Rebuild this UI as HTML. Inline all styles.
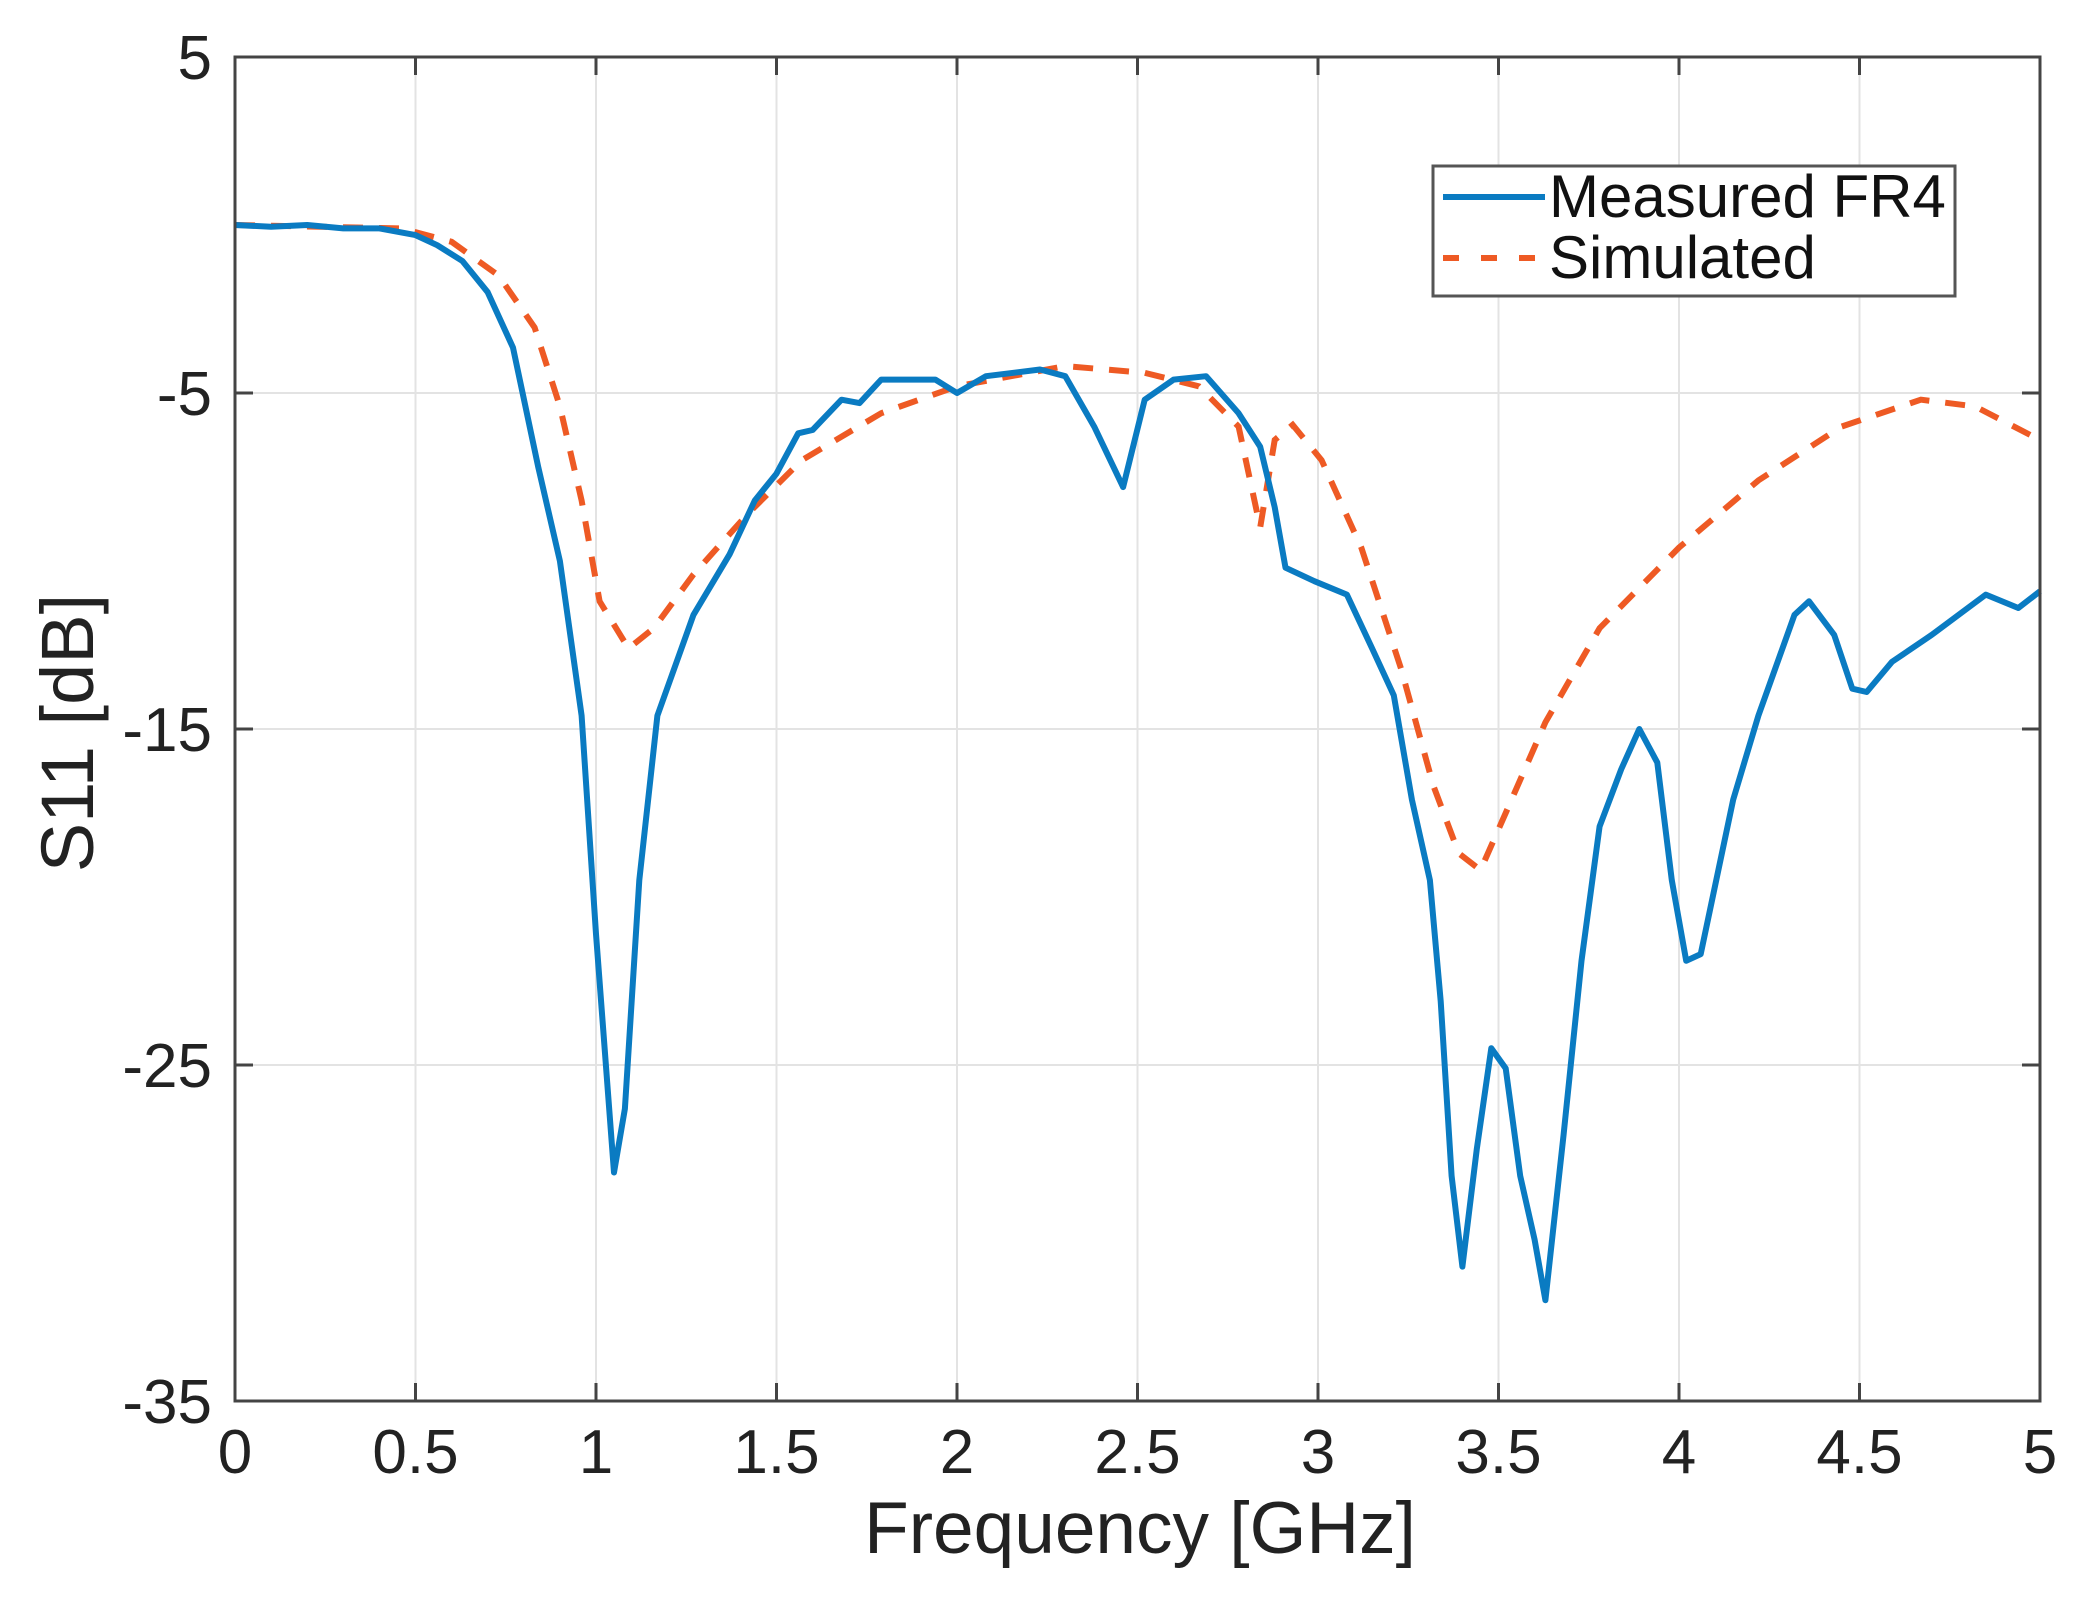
<!DOCTYPE html>
<html><head><meta charset="utf-8"><style>
html,body{margin:0;padding:0;background:#fff;}
svg{display:block;font-family:"Liberation Sans",Arial,sans-serif;}
</style></head><body>
<svg id="s" width="2088" height="1603" viewBox="0 0 2088 1603" xmlns="http://www.w3.org/2000/svg">
<rect width="2088" height="1603" fill="#fff"/>
<g id="grid" stroke="#e3e3e3" stroke-width="2"></g>
<g id="ticks" stroke="#444" stroke-width="3"></g>
<path id="sim" fill="none" stroke="#EE5A24" stroke-width="6" stroke-dasharray="20,16"/>
<path id="meas" fill="none" stroke="#0A7BC2" stroke-width="6" stroke-linejoin="round"/>
<rect x="235" y="57" width="1805" height="1344" fill="none" stroke="#444" stroke-width="3"/>
<g id="lbl" fill="#222" font-size="62"></g>
<text x="1140" y="1553" text-anchor="middle" font-size="73" fill="#222">Frequency [GHz]</text>
<text transform="translate(93,733) rotate(-90)" text-anchor="middle" font-size="74" fill="#222">S11 [dB]</text>
<rect x="1433" y="166" width="522" height="130" fill="#fff" stroke="#555" stroke-width="3"/>
<line x1="1443" y1="197" x2="1545" y2="197" stroke="#0A7BC2" stroke-width="6"/>
<line x1="1443" y1="258" x2="1545" y2="258" stroke="#EE5A24" stroke-width="6" stroke-dasharray="16,22"/>
<text x="1549" y="217" font-size="60" fill="#111">Measured FR4</text>
<text x="1549" y="278" font-size="60" fill="#111">Simulated</text>
</svg>
<script>
var X=function(f){return 235+f*361;},Y=function(d){return 57+(5-d)*33.6;};
var ns="http://www.w3.org/2000/svg";
function el(p,t,a,txt){var e=document.createElementNS(ns,t);for(var k in a)e.setAttribute(k,a[k]);if(txt!==undefined)e.textContent=txt;document.getElementById(p).appendChild(e);}
for(var i=1;i<10;i++){var x=X(i*0.5);el("grid","line",{x1:x,y1:57,x2:x,y2:1401});
el("ticks","line",{x1:x,y1:1401,x2:x,y2:1383});el("ticks","line",{x1:x,y1:57,x2:x,y2:75});}
for(var i=0;i<=10;i++){el("lbl","text",{x:X(i*0.5),y:1473,"text-anchor":"middle"},String(i*0.5));}
[5,-5,-15,-25,-35].forEach(function(d){var y=Y(d);
if(d>-35&&d<5){el("grid","line",{x1:235,y1:y,x2:2040,y2:y});el("ticks","line",{x1:235,y1:y,x2:253,y2:y});el("ticks","line",{x1:2040,y1:y,x2:2022,y2:y});}
el("lbl","text",{x:212,y:y+22,"text-anchor":"end"},String(d));});
var m=[[0,0],[0.1,-0.05],[0.2,0],[0.3,-0.1],[0.4,-0.1],[0.5,-0.3],[0.56,-0.6],[0.63,-1.07],[0.7,-2],[0.77,-3.65],[0.84,-7.2],[0.9,-10],[0.96,-14.6],[1.0,-21.1],[1.05,-28.2],[1.08,-26.3],[1.12,-19.5],[1.17,-14.6],[1.27,-11.6],[1.37,-9.8],[1.44,-8.2],[1.5,-7.4],[1.56,-6.2],[1.6,-6.1],[1.68,-5.2],[1.73,-5.3],[1.79,-4.6],[1.94,-4.6],[2.0,-5.0],[2.08,-4.5],[2.23,-4.3],[2.3,-4.5],[2.38,-6.0],[2.46,-7.8],[2.52,-5.2],[2.6,-4.6],[2.69,-4.5],[2.78,-5.6],[2.84,-6.6],[2.88,-8.4],[2.91,-10.2],[2.99,-10.6],[3.08,-11.0],[3.15,-12.6],[3.21,-14],[3.26,-17.1],[3.31,-19.5],[3.34,-23.1],[3.37,-28.3],[3.4,-31],[3.44,-27.5],[3.48,-24.5],[3.52,-25.1],[3.56,-28.3],[3.6,-30.2],[3.63,-32],[3.68,-27.1],[3.73,-21.9],[3.78,-17.9],[3.84,-16.2],[3.89,-15],[3.94,-16],[3.98,-19.5],[4.02,-21.9],[4.06,-21.7],[4.15,-17.1],[4.22,-14.6],[4.32,-11.6],[4.36,-11.2],[4.43,-12.2],[4.48,-13.8],[4.52,-13.9],[4.59,-13],[4.7,-12.2],[4.8,-11.4],[4.85,-11.0],[4.94,-11.4],[5,-10.9]];
var s=[[0,0],[0.46,-0.1],[0.6,-0.5],[0.73,-1.5],[0.83,-3.05],[0.9,-5.4],[0.96,-8.2],[1.01,-11.2],[1.09,-12.6],[1.16,-12],[1.27,-10.4],[1.42,-8.6],[1.57,-7.0],[1.79,-5.6],[2.0,-4.8],[2.3,-4.2],[2.52,-4.4],[2.67,-4.8],[2.78,-6.0],[2.84,-9],[2.88,-6.4],[2.93,-5.95],[3.01,-7.0],[3.12,-9.6],[3.23,-13.2],[3.32,-16.7],[3.39,-18.7],[3.45,-19.2],[3.52,-17.5],[3.63,-14.8],[3.78,-12],[4.0,-9.6],[4.22,-7.6],[4.45,-6.0],[4.67,-5.2],[4.82,-5.4],[5,-6.4]];
function path(a){return a.map(function(p,i){return (i?"L":"M")+X(p[0]).toFixed(1)+","+Y(p[1]).toFixed(1);}).join("");}
document.getElementById("meas").setAttribute("d",path(m));
document.getElementById("sim").setAttribute("d",path(s));
</script>
</body></html>
